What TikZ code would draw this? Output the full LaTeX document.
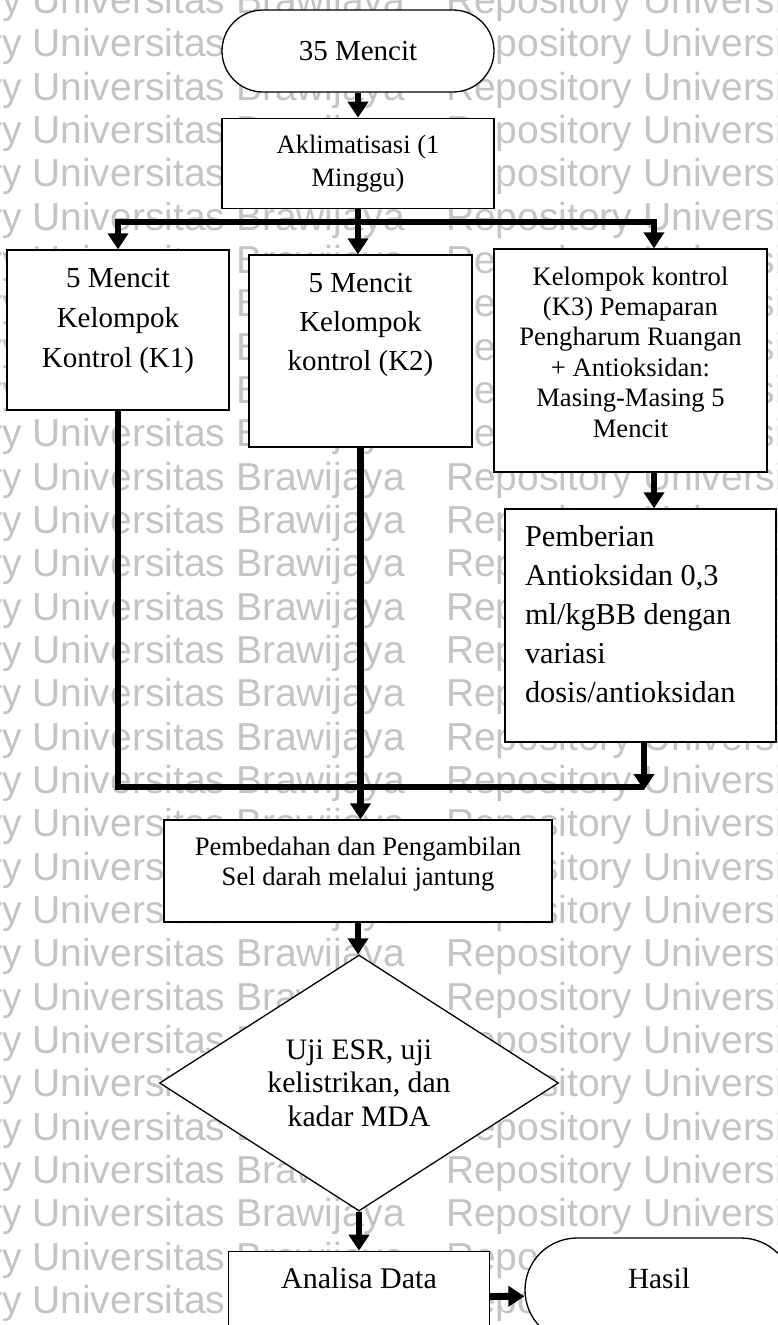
\documentclass[tikz,border=0pt]{standalone}
\usepackage{fontspec}
\setmainfont{Liberation Serif}
\newfontfamily\wmfont{Liberation Sans}
\usepackage{tikz}
\usetikzlibrary{positioning}
\usetikzlibrary{shapes.geometric}
\usetikzlibrary{shapes.misc}
\usetikzlibrary{arrows.meta}

\newcommand{\boxtext}[4]{\parbox[c][#2][t]{#1}{\centering\rule{0pt}{#3}#4}}
\newcommand{\boxtextl}[4]{\parbox[c][#2][t]{#1}{\raggedright\leftskip=20pt\rule{0pt}{#3}#4}}

\begin{document}
\begin{tikzpicture}[x=1pt, y=-1pt,
    box/.style={draw, fill=white, line width=1.3pt, inner sep=0pt},
    term/.style={box, rounded rectangle},
    decision/.style={box, diamond, aspect=1.56, align=center},
    flow/.style={line width=6.5pt},
    flowarrow/.style={flow, -{Triangle[width=20pt, length=16pt]}},
    watermark/.style={text=black!23, font=\wmfont\fontsize{39}{39}\selectfont, anchor=base west, inner sep=0pt}]

    \useasboundingbox (0,0) rectangle (777,1325);

    \foreach \k in {0,...,30}
        \node[watermark] (wm\k) at (-165, 13.5+43.33*\k) {Repository Universitas Brawijaya\hspace{41pt}Repository Universitas Brawijaya};

    \node[term, font=\fontsize{29}{33}\selectfont] (start) at (358,51) {\boxtext{190pt}{82pt}{50pt}{35 Mencit}};
    \node[box, below=25pt of start, font=\fontsize{26.5}{33}\selectfont] (aklim) {\boxtext{272pt}{90pt}{35pt}{Aklimatisasi (1\\Minggu)}};

    \node[box, font=\fontsize{29}{40}\selectfont] (k1) at (118,330) {\boxtext{222pt}{160pt}{37pt}{5 Mencit\\Kelompok\\Kontrol (K1)}};
    \node[box, font=\fontsize{29}{39}\selectfont] (k2) at (360.5,351) {\boxtext{223pt}{192pt}{37pt}{5 Mencit\\Kelompok\\kontrol (K2)}};
    \node[box, font=\fontsize{26.6}{30.4}\selectfont] (k3) at (630.5,360.5) {\boxtext{273pt}{223pt}{36pt}{Kelompok kontrol\\(K3) Pemaparan\\Pengharum Ruangan\\+ Antioksidan:\\Masing-Masing 5\\Mencit}};
    \node[box, font=\fontsize{30.3}{39}\selectfont] (dose) at (640.5,625.5) {\boxtextl{271pt}{233pt}{37pt}{Pemberian\\Antioksidan 0,3\\ml/kgBB dengan\\variasi\\dosis/antioksidan}};

    \node[box, font=\fontsize{26.6}{30}\selectfont] (cut) at (358,871) {\boxtext{388pt}{102pt}{35pt}{Pembedahan dan Pengambilan\\Sel darah melalui jantung}};
    \node[decision, minimum width=399pt, minimum height=256pt, font=\fontsize{29.7}{33.5}\selectfont] (test) at (359,1083) {Uji ESR, uji\\kelistrikan, dan\\kadar MDA};
    \node[box, below=39pt of test, font=\fontsize{30}{36}\selectfont] (data) {\boxtext{261pt}{90pt}{37pt}{Analisa Data}};
    \node[term, font=\fontsize{29.3}{34}\selectfont] (hasil) at (659,1290) {\boxtext{164pt}{104pt}{50pt}{Hasil}};

    \coordinate (split) at (358,222);
    \coordinate (colR) at (654,222);
    \coordinate (merge) at (644,787);

    \draw[flowarrow] (start.south) -- (aklim.north);
    \draw[flowarrow] (aklim.south) -- (aklim.south |- k2.north);
    \draw[flowarrow] (split) -| (k1.north);
    \draw[flowarrow] (split) -| (colR |- k3.north);
    \draw[flowarrow] (k3.south -| colR) -- (dose.north -| colR);

    \draw[flow] (k1.south) |- (merge);
    \draw[flowarrow] (dose.south -| merge) -- ([yshift=-3pt]merge);
    \draw[flowarrow] (k2.south) -- (k2.south |- cut.north);

    \draw[flowarrow] (cut.south) -- (cut.south |- test.north);
    \draw[flowarrow] (test.south) -- (data.north -| test.south);
    \draw[flowarrow] (data.east) -- (data.east -| hasil.west);
\end{tikzpicture}
\end{document}
